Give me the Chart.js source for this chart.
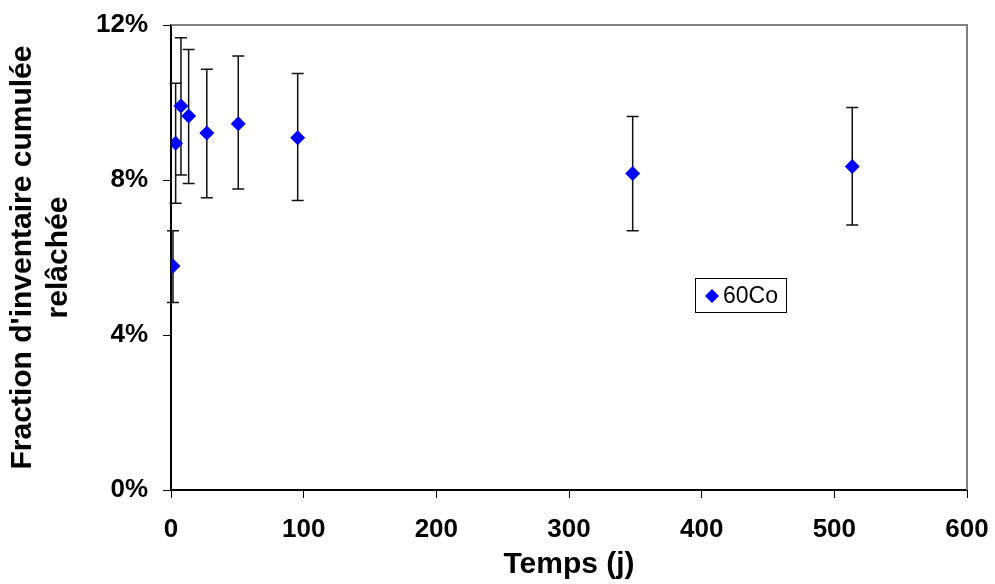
<!DOCTYPE html>
<html>
<head>
<meta charset="utf-8">
<script src="https://cdn.jsdelivr.net/npm/chart.js@4.4.0/dist/chart.umd.min.js"></script>
<style>
  html, body { margin: 0; padding: 0; background: #ffffff; }
  #wrap { width: 995px; height: 584px; position: relative; }
</style>
</head>
<body>
<div id="wrap"><canvas id="c" width="995" height="584"></canvas></div>
<script>
// Data
const days      = [1.5, 3.5, 7.5, 13.3, 27, 50.7, 95.5, 348, 513.5];
const fraction  = [5.78, 8.95, 9.91, 9.65, 9.21, 9.45, 9.09, 8.17, 8.35]; // %
const errUpper  = [6.69, 10.50, 11.67, 11.37, 10.86, 11.20, 10.75, 9.64, 9.87]; // %
const errLower  = [4.84, 7.40, 8.13, 7.91, 7.54, 7.77, 7.47, 6.69, 6.84];   // %
const seriesName = '60Co';
const xTitle = 'Temps (j)';
const yTitle = ["Fraction d'inventaire cumulée", 'relâchée'];

const points = days.map((d, i) => ({ x: d, y: fraction[i], hi: errUpper[i], lo: errLower[i] }));

const errorBars = {
  id: 'errorBars',
  beforeDatasetsDraw(chart) {
    const ctx = chart.ctx, xs = chart.scales.x, ys = chart.scales.y;
    ctx.save();
    ctx.strokeStyle = '#111111';
    ctx.lineWidth = 1.5;
    points.forEach(p => {
      const x = xs.getPixelForValue(p.x);
      const yt = ys.getPixelForValue(p.hi);
      const yb = ys.getPixelForValue(p.lo);
      ctx.beginPath();
      ctx.moveTo(x, yt); ctx.lineTo(x, yb);
      ctx.moveTo(x - 6, yt); ctx.lineTo(x + 6, yt);
      ctx.moveTo(x - 6, yb); ctx.lineTo(x + 6, yb);
      ctx.stroke();
    });
    ctx.restore();
  }
};

const frame = {
  id: 'frame',
  beforeDatasetsDraw(chart) {
    const { ctx, chartArea: a } = chart;
    ctx.save();
    ctx.strokeStyle = '#808080';
    ctx.lineWidth = 2;
    ctx.beginPath();
    ctx.moveTo(a.left, a.top);
    ctx.lineTo(a.right, a.top);
    ctx.lineTo(a.right, a.bottom);
    ctx.stroke();
    ctx.restore();
  }
};

const legendBox = {
  id: 'legendBox',
  afterDraw(chart) {
    const ctx = chart.ctx;
    const bx = 695, by = 278, bw = 91, bh = 34;
    ctx.save();
    ctx.fillStyle = '#ffffff';
    ctx.fillRect(bx, by, bw, bh);
    ctx.strokeStyle = '#000000';
    ctx.lineWidth = 1;
    ctx.strokeRect(bx + 0.5, by + 0.5, bw, bh);
    const cx = 712, cy = by + bh / 2 + 1, r = 7;
    ctx.fillStyle = '#0000ff';
    ctx.beginPath();
    ctx.moveTo(cx, cy - r); ctx.lineTo(cx + r, cy); ctx.lineTo(cx, cy + r); ctx.lineTo(cx - r, cy);
    ctx.closePath(); ctx.fill();
    ctx.fillStyle = '#000000';
    ctx.font = '23px "Liberation Sans", Arial, sans-serif';
    ctx.textBaseline = 'middle';
    ctx.textAlign = 'left';
    ctx.fillText(seriesName, 723, cy + 1);
    ctx.restore();
  }
};

const FONT = '"Liberation Sans", Arial, sans-serif';

new Chart(document.getElementById('c'), {
  type: 'scatter',
  data: {
    datasets: [{
      label: seriesName,
      data: points,
      pointStyle: 'rectRot',
      pointRadius: 7.5,
      pointHoverRadius: 7.5,
      backgroundColor: '#0000ff',
      borderColor: '#0000ff',
      borderWidth: 0
    }]
  },
  options: {
    responsive: false,
    animation: false,
    events: [],
    layout: { padding: { top: 25, right: 28, left: 0, bottom: 0 } },
    plugins: { legend: { display: false }, tooltip: { enabled: false } },
    scales: {
      x: {
        type: 'linear', min: 0, max: 600,
        afterFit(s) { s.height = 94; s.paddingLeft = 0; s.paddingRight = 0; },
        ticks: { stepSize: 100, color: '#000', padding: 16, maxRotation: 0,
          font: { family: FONT, size: 26, weight: 'bold' } },
        grid: { drawOnChartArea: false, color: '#000', tickLength: 8, tickColor: '#000', tickWidth: 1 },
        border: { color: '#000', width: 2 },
        title: { display: true, text: xTitle, color: '#000', padding: { top: 0, bottom: 1 },
          font: { family: FONT, size: 30, weight: 'bold', lineHeight: 1.2 } }
      },
      y: {
        type: 'linear', min: 0, max: 12,
        afterFit(s) { s.width = 171; s.paddingTop = 0; s.paddingBottom = 0; },
        ticks: { stepSize: 4, color: '#000', padding: 15, callback: v => v + '%',
          font: { family: FONT, size: 26, weight: 'bold' } },
        grid: { drawOnChartArea: false, color: '#000', tickLength: 8, tickColor: '#000', tickWidth: 1 },
        border: { color: '#000', width: 2 },
        title: { display: true, text: yTitle, color: '#000', padding: { top: 5, bottom: 0 },
          font: { family: FONT, size: 30, weight: 'bold', lineHeight: 1.2 } }
      }
    }
  },
  plugins: [frame, errorBars, legendBox]
});
</script>
</body>
</html>
